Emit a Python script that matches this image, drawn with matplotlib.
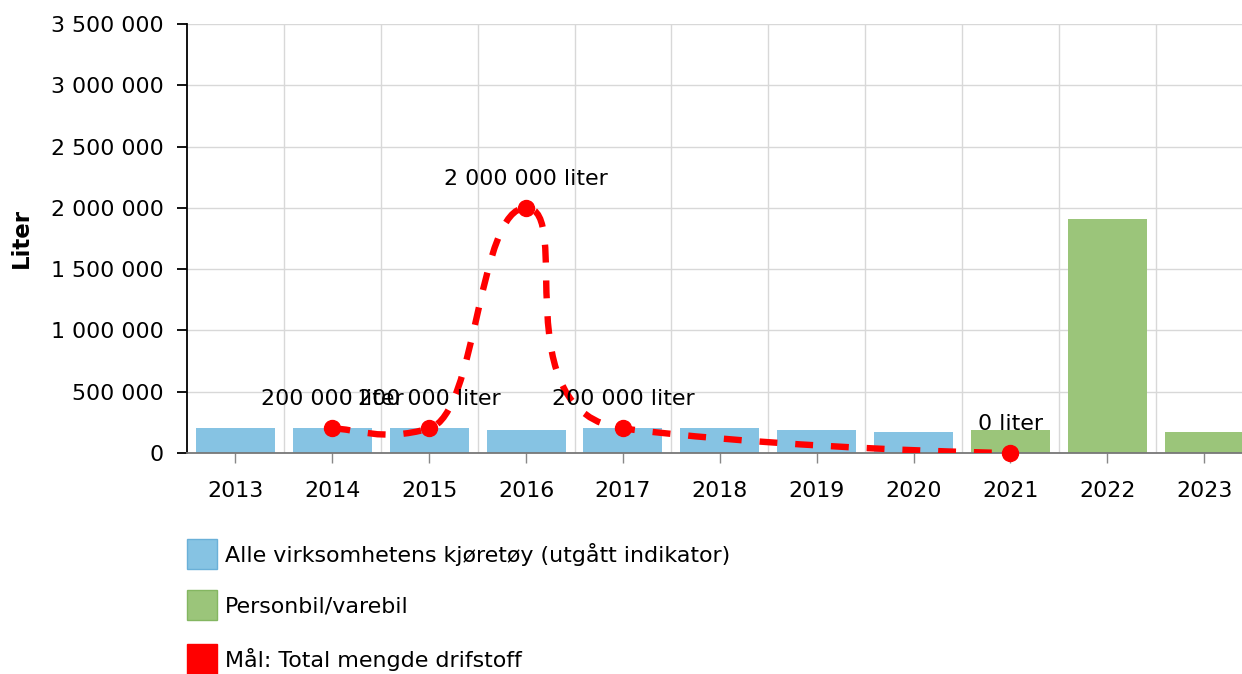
import numpy as np
import matplotlib
matplotlib.use("Agg")
import matplotlib.pyplot as plt
from matplotlib.path import Path
from matplotlib.patches import PathPatch
from matplotlib.lines import Line2D
from matplotlib.ticker import FuncFormatter, FixedLocator

years = ['2013', '2014', '2015', '2016', '2017', '2018', '2019', '2020', '2021', '2022', '2023']

alle_years = ['2013', '2014', '2015', '2016', '2017', '2018', '2019', '2020']
alle_values = [205000, 205000, 205000, 188000, 205000, 205000, 188000, 171000]

person_years = ['2021', '2022', '2023']
person_values = [188000, 1910000, 171000]

goal_years = ['2014', '2015', '2016', '2017', '2021']
goal_values = [200000, 200000, 2000000, 200000, 0]

BLUE = '#86c3e3'
GREEN = '#9bc57a'
RED = '#ff0000'
FS = 15.9


def fmt(v, pos=None):
    return f"{v:,.0f}".replace(",", " ")


def spline_path(xs, ys, kx=4.0, ky=16.0):
    # catmull-rom style curve, separate tension for x and y
    xs = np.asarray(xs, dtype=float)
    ys = np.asarray(ys, dtype=float)
    n = len(xs)
    verts = [(xs[0], ys[0])]
    codes = [Path.MOVETO]
    for i in range(n - 1):
        i0 = max(i - 1, 0)
        i3 = min(i + 2, n - 1)
        c1 = (xs[i] + (xs[i + 1] - xs[i0]) / kx, ys[i] + (ys[i + 1] - ys[i0]) / ky)
        c2 = (xs[i + 1] - (xs[i3] - xs[i]) / kx, ys[i + 1] - (ys[i3] - ys[i]) / ky)
        verts += [c1, c2, (xs[i + 1], ys[i + 1])]
        codes += [Path.CURVE4] * 3
    return Path(verts, codes)


fig = plt.figure(figsize=(12.42, 6.74), dpi=100)
ax = fig.add_axes([187 / 1242, 1 - 453 / 674, 1 - 187 / 1242, (453 - 24) / 674])

ax.set_xlim(-0.5, 10.39)
ax.set_ylim(0, 3500000)

idx = {y: i for i, y in enumerate(years)}
ax.bar([idx[y] for y in alle_years], alle_values, width=0.815, color=BLUE, zorder=2)
ax.bar([idx[y] for y in person_years], person_values, width=0.815, color=GREEN, zorder=2)

gx = [idx[y] for y in goal_years]
path = spline_path(gx, goal_values)
patch = PathPatch(path, fill=False, edgecolor=RED, linewidth=4.6, linestyle=(0, (2.8, 2.8)),
                  zorder=3, capstyle='butt')
ax.add_patch(patch)
ax.plot(gx, goal_values, 'o', color=RED, markersize=11.5, zorder=4, clip_on=False)

for x, v in zip(gx, goal_values):
    ax.annotate(f"{fmt(v)} liter", (x, v), xytext=(0, 21), textcoords='offset points',
                ha='center', va='center', fontsize=FS, color='black', zorder=5)

ax.set_xticks(range(len(years)))
ax.set_xticklabels(years)
ax.xaxis.set_minor_locator(FixedLocator(np.arange(0.5, 10, 1)))
ax.set_yticks(np.arange(0, 3500001, 500000))
ax.yaxis.set_major_formatter(FuncFormatter(fmt))

ax.grid(True, axis='y', color='#d8d8d8', linewidth=1, zorder=0)
ax.grid(True, axis='x', which='minor', color='#d8d8d8', linewidth=1, zorder=0)
ax.set_axisbelow(True)

for s in ['top', 'right']:
    ax.spines[s].set_visible(False)
ax.spines['left'].set_color('black')
ax.spines['left'].set_linewidth(1.3)
ax.spines['bottom'].set_color('#777777')
ax.spines['bottom'].set_linewidth(1.3)

ax.tick_params(axis='y', length=7, width=1.3, color='black', pad=10, labelsize=FS)
ax.tick_params(axis='x', which='major', length=7, width=1, color='#888888', pad=13, labelsize=FS)
ax.tick_params(axis='x', which='minor', length=0)

ax.set_ylabel('Liter', fontsize=16.5, fontweight='bold')
ax.yaxis.set_label_coords((33 - 187) / 1055, 0.5)

handles = [
    Line2D([], [], marker='s', linestyle='none', markersize=21.5,
           markerfacecolor=BLUE, markeredgecolor='#6ab0d8', markeredgewidth=1),
    Line2D([], [], marker='s', linestyle='none', markersize=21.5,
           markerfacecolor=GREEN, markeredgecolor='#84b661', markeredgewidth=1),
    Line2D([], [], marker='s', linestyle='none', markersize=21.5,
           markerfacecolor=RED, markeredgecolor=RED, markeredgewidth=1),
]
labels = ['Alle virksomhetens kjøretøy (utgått indikator)', 'Personbil/varebil',
          'Mål: Total mengde drifstoff']
fig.legend(handles, labels, loc='upper left', bbox_to_anchor=(187 / 1242, 1 - 543 / 674),
           frameon=False, fontsize=FS, handlelength=1.38, handletextpad=0.35,
           labelspacing=1.4, borderaxespad=0, borderpad=0)

fig.savefig('out.png', dpi=100)
